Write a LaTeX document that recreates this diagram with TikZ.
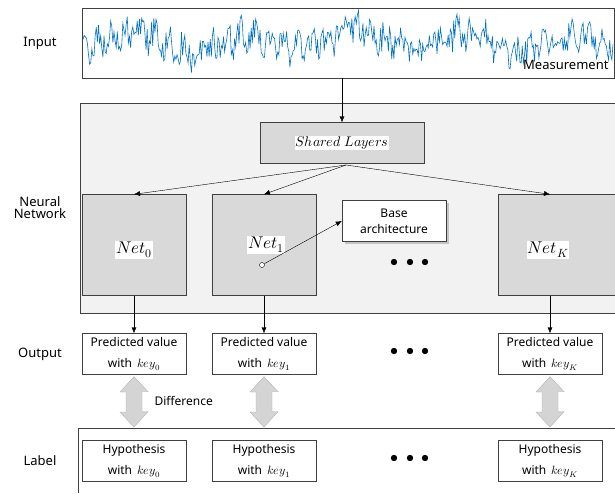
\documentclass[tikz,border=0pt]{standalone}
\usepackage{fontspec}
\usepackage{unicode-math}
\setmainfont{Noto Sans}
\setmathfont{Latin Modern Math}
\usetikzlibrary{arrows.meta,shadows,calc}
\tikzset{
  netbox/.style={draw=black!75, fill=black!15, minimum width=104pt, minimum height=101pt, inner sep=0pt},
  valbox/.style={draw=black!75, fill=white, minimum width=104pt, minimum height=41pt, inner sep=0pt, align=center,
    font=\fontsize{12}{21}\selectfont},
  sidetext/.style={font=\fontsize{13}{15}\selectfont, align=center},
  arr/.style={-{Latex[length=6pt,width=5pt]}, thin},
  diffarrow/.style={draw=black!30, fill=black!17},
  dotrow/.style={font=\fontsize{16}{16}\selectfont}
}
\newcommand{\hl}[1]{{\setlength{\fboxsep}{1pt}\colorbox{white}{#1}}}
% double arrow between two named nodes (top, bottom)
\newcommand{\diffbetween}[2]{%
  \draw[diffarrow] ($(#1.south)+(0,2)$) -- ++(14,15) -- ++(-6,0) -- ++(0,20) -- ++(6,0)
    -- ($(#2.north)+(0,-1)$) -- ++(-14,-15) -- ++(6,0) -- ++(0,-20) -- ++(-6,0) -- cycle;}
\begin{document}
\begin{tikzpicture}[x=1pt,y=-1pt]
  \useasboundingbox (0,0) rectangle (615,493);
  % side labels
  \node[sidetext] (tin) at (40,43) {Input};
  \node[sidetext] (tnn) at (40,208) {Neural\\[-3pt]Network};
  \node[sidetext] (tout) at (40,354) {Output};
  \node[sidetext] (tlab) at (40,461) {Label};

  % input signal
  \node[draw=black!75, thick, minimum width=532pt, minimum height=70pt, inner sep=0pt] (input) at (348,43) {};
  \pgfmathsetseed{11}
  \draw[color={rgb,255:red,0;green,114;blue,196}, line width=0.6pt]
    plot[domain=83:613, samples=480] (\x, {41 - 8*sin(\x*3.3) - 4*sin(\x*1.1+40) + 7*sin(\x*25) + 15*rand});
  \node[font=\fontsize{13}{15}\selectfont, anchor=east] (meas) at (612,65) {Measurement};

  % neural network block
  \fill[black!5] (80,103) rectangle (615,313);
  \draw[black!75] (615,103) -- (80,103) -- (80,313) -- (615,313);
  \node[draw=black!75, fill=black!15, minimum width=164pt, minimum height=41pt] (shared) at (342,143)
    {\hl{\fontsize{14}{16}\selectfont$Shared\ Layers$}};
  \node[netbox] (net0) at (134,245) {};
  \node[netbox] (net1) at (264,245) {};
  \node[netbox, minimum width=117pt] (netK) at (556.5,245) {};
  \node at (134,250) {\hl{\fontsize{17}{18}\selectfont$Net_0$}};
  \node at (266,245) {\hl{\fontsize{17}{18}\selectfont$Net_1$}};
  \node at (548,250) {\hl{\fontsize{17}{18}\selectfont$Net_K$}};
  \node[draw=black!75, fill=white, drop shadow={opacity=0.4}, minimum width=104pt, minimum height=41pt,
    align=center, font=\fontsize{12}{16}\selectfont] (base) at (394,221) {Base\\architecture};
  \node[dotrow] (dnet) at (410,263) {$\bullet\ \bullet\ \bullet$};
  \node[draw, circle, fill=white, inner sep=0pt, minimum size=5pt] (pick) at (262,265) {};

  \coordinate (split) at (346,165);
  \draw[arr] (input.south -| shared.north) -- (shared.north);
  \draw[arr] (split) -- (net0.north);
  \draw[arr] (split) -- (net1.north);
  \draw[arr] (split) -- (netK.north -| 550,0);
  \draw[arr] (pick) -- (base.west);

  % outputs
  \node[valbox] (out0) at (134,354) {Predicted value\\with \,$key_0$};
  \node[valbox] (out1) at (264,354) {Predicted value\\with \,$key_1$};
  \node[valbox] (outK) at (550,354) {Predicted value\\with \,$key_K$};
  \node[dotrow] (dout) at (410,352) {$\bullet\ \bullet\ \bullet$};
  \draw[arr] (net0.south) -- (out0.north);
  \draw[arr] (net1.south) -- (out1.north);
  \draw[arr] (net1.south -| outK.north) -- (outK.north);

  % labels
  \draw[black!75] (78,493) -- (78,428) -- (615,428);
  \node[valbox] (hyp0) at (134,461) {Hypothesis\\with \,$key_0$};
  \node[valbox] (hyp1) at (264,461) {Hypothesis\\with \,$key_1$};
  \node[valbox] (hypK) at (550,461) {Hypothesis\\with \,$key_K$};
  \node[dotrow] (dhyp) at (410,459) {$\bullet\ \bullet\ \bullet$};

  % differences
  \coordinate (lab0) at (134,428);
  \coordinate (lab1) at (264,428);
  \coordinate (labK) at (550,428);
  \diffbetween{out0}{lab0}
  \diffbetween{out1}{lab1}
  \diffbetween{outK}{labK}
  \node[font=\fontsize{12}{14}\selectfont, anchor=west] (difftext) at (151,401) {Difference};
\end{tikzpicture}
\end{document}
